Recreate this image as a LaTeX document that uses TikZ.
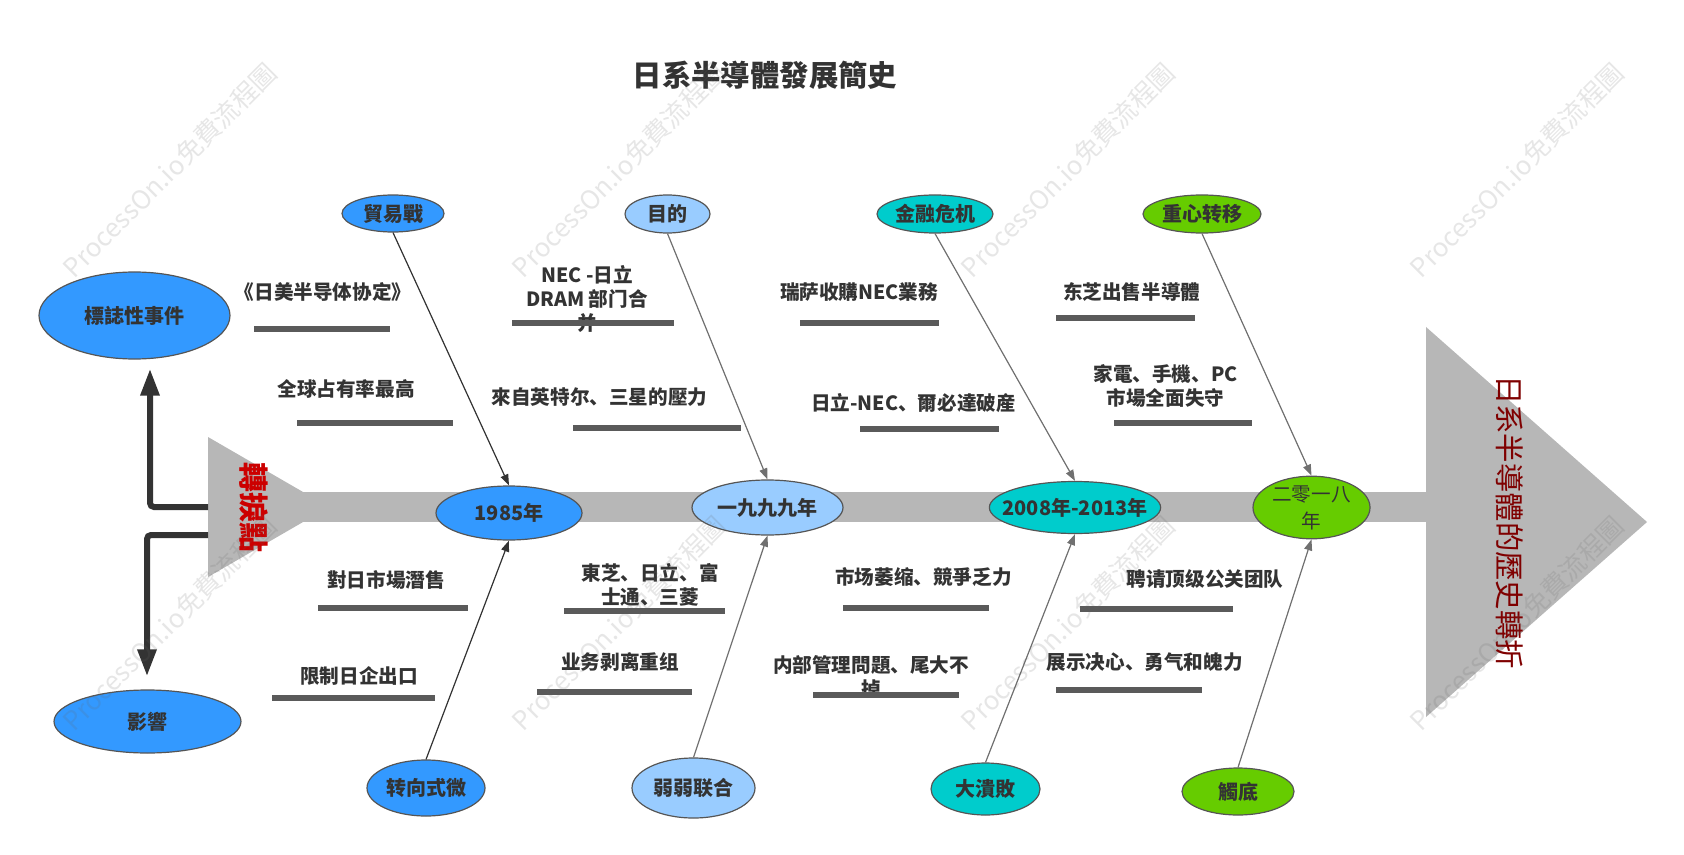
\documentclass[tikz,border=0pt]{standalone}
\usepackage{fontspec}
\setmainfont{Noto Sans CJK SC}
\usetikzlibrary{arrows.meta,shapes.geometric}
\definecolor{cblue}{HTML}{3399FF}
\definecolor{clblue}{HTML}{99CCFF}
\definecolor{cteal}{HTML}{00CCCC}
\definecolor{cgreen}{HTML}{66CC00}
\definecolor{txt}{HTML}{333333}
\definecolor{barc}{HTML}{5A5A5A}
\definecolor{fish}{HTML}{B7B7B7}
\definecolor{dred}{HTML}{7F0000}
\definecolor{bred}{HTML}{CC0000}
\definecolor{edge}{HTML}{555555}
\definecolor{darkarr}{HTML}{333333}
\definecolor{grayarr}{HTML}{707070}
\tikzset{
  oval/.style={ellipse, draw=edge, line width=0.6pt, inner sep=0pt, text=txt,
    font=\bfseries\fontsize{10pt}{12pt}\selectfont, align=center},
  lbl/.style={inner sep=0pt, text=txt, align=center,
    font=\bfseries\fontsize{9.8pt}{12pt}\selectfont},
  ubar/.style={draw=barc, line width=3pt},
  thin arrow/.style={line width=0.6pt, -{Triangle[length=5.5pt,width=4pt]}},
  thick arrow/.style={draw=darkarr, line width=3pt, rounded corners=2pt,
    -{Triangle[length=13.5pt,width=9pt]}},
  wmark/.style={rotate=45, text=black!60, text opacity=0.16,
    font=\fontsize{13pt}{15pt}\selectfont, inner sep=0pt}
}
\begin{document}
\begin{tikzpicture}[x=0.5pt,y=-0.5pt]
\useasboundingbox (0,0) rectangle (1684,855);

% title
\node[inner sep=0pt, text=txt, font=\bfseries\fontsize{14.7pt}{16pt}\selectfont] (title) at (765,75) {日系半導體發展簡史};

% spine
\fill[fish] (290,492) rectangle (1426,522);
\coordinate (LA) at (208,437);
\coordinate (LB) at (208,577);
\coordinate (LC) at (329,507);
\fill[fish] (LA) -- (LB) -- (LC) -- cycle;
\coordinate (RA) at (1426,327);
\coordinate (RB) at (1426,717);
\coordinate (RC) at (1647,522);
\fill[fish] (RA) -- (RB) -- (RC) -- cycle;

\node[rotate=-90, inner sep=0pt, text=bred, font=\bfseries\fontsize{15pt}{16pt}\selectfont] (turn) at (254,507) {轉捩點};
\node[rotate=-90, inner sep=0pt, text=dred, font=\fontsize{14.7pt}{16pt}\selectfont] (head) at (1510,522) {日系半導體的歷史轉折};

% text labels and bars
\node[lbl] (t1) at (323,292) {《日美半导体协定》};
\draw[ubar] (254,329) -- (390,329);
\node[lbl] (t2) at (346,389) {全球占有率最高};
\draw[ubar] (297,423) -- (453,423);
\node[lbl] (t3) at (386,580) {對日市場潛售};
\draw[ubar] (318,608) -- (468,608);
\node[lbl] (t4) at (359,676) {限制日企出口};
\draw[ubar] (272,698) -- (435,698);

\node[lbl] (t5) at (587,299) {NEC -日立\\DRAM 部门合\\并};
\draw[ubar] (512,323) -- (674,323);
\node[lbl] (t6) at (599.5,397) {來自英特尔、三星的壓力};
\draw[ubar] (573,428) -- (741,428);
\node[lbl] (t7) at (650,584.5) {東芝、日立、富\\士通、三菱};
\draw[ubar] (564,611) -- (725,611);
\node[lbl] (t8) at (620,662) {业务剥离重组};
\draw[ubar] (537,692) -- (692,692);

\node[lbl] (t9) at (859,292) {瑞萨收購NEC業務};
\draw[ubar] (800,323) -- (939,323);
\node[lbl] (t10) at (913.5,403) {日立-NEC、爾必達破産};
\draw[ubar] (860,429) -- (999,429);
\node[lbl] (t11) at (923.5,577) {市场萎缩、競爭乏力};
\draw[ubar] (843,608) -- (989,608);
\node[lbl] (t12) at (871,676.5) {内部管理問題、尾大不\\掉};
\draw[ubar] (813,695) -- (959,695);

\node[lbl] (t13) at (1131.7,292) {东芝出售半導體};
\draw[ubar] (1056,318) -- (1195,318);
\node[lbl] (t14) at (1165.5,385.5) {家電、手機、PC\\市場全面失守};
\draw[ubar] (1114,423) -- (1252,423);
\node[lbl] (t15) at (1205,579) {聘请顶级公关团队};
\draw[ubar] (1080,609) -- (1233,609);
\node[lbl] (t16) at (1144.7,662) {展示决心、勇气和魄力};
\draw[ubar] (1056,690) -- (1202,690);

% ellipses
\node[oval, fill=cblue, minimum width=51pt, minimum height=18.5pt] (e1) at (393,213.5) {貿易戰};
\node[oval, fill=clblue, minimum width=42.5pt, minimum height=19pt] (e2) at (667.5,214) {目的};
\node[oval, fill=cteal, minimum width=58pt, minimum height=19pt] (e3) at (935,214) {金融危机};
\node[oval, fill=cgreen, minimum width=59pt, minimum height=19pt] (e4) at (1202,214) {重心转移};

\node[oval, fill=cblue, minimum width=95.5pt, minimum height=43.5pt] (k1) at (134.5,315.5) {標誌性事件};
\node[oval, fill=cblue, minimum width=93.5pt, minimum height=31.5pt] (k2) at (147.5,721.5) {影響};

\node[oval, fill=cblue, minimum width=73pt, minimum height=27pt] (y1) at (509,513) {1985年};
\node[oval, fill=clblue, minimum width=75.5pt, minimum height=27.5pt] (y2) at (767.5,507.5) {一九九九年};
\node[oval, fill=cteal, inner xsep=-6pt, minimum width=82pt, minimum height=26pt] (y3) at (1075,507.5) {2008年-2013年};
\node[oval, fill=cgreen, inner xsep=-2pt, minimum width=58.5pt, minimum height=24.5pt, font=\fontsize{9.8pt}{13.5pt}\selectfont] (y4) at (1311.5,507.5) {二零一八\\年};

\node[oval, fill=cblue, minimum width=59pt, minimum height=28pt] (b1) at (426,788) {转向式微};
\node[oval, fill=clblue, minimum width=61.5pt, minimum height=30pt] (b2) at (693.5,788) {弱弱联合};
\node[oval, fill=cteal, minimum width=54.5pt, minimum height=26pt] (b3) at (985.5,789) {大潰敗};
\node[oval, fill=cgreen, minimum width=56pt, minimum height=23.5pt] (b4) at (1238,791.5) {觸底};

% connectors
\draw[thin arrow, draw=darkarr, fill=darkarr] (e1.south) -- (y1.north);
\draw[thin arrow, draw=darkarr, fill=darkarr] (b1.north) -- (y1.south);
\draw[thin arrow, draw=grayarr, fill=grayarr] (e2.south) -- (y2.north);
\draw[thin arrow, draw=grayarr, fill=grayarr] (b2.north) -- (y2.south);
\draw[thin arrow, draw=grayarr, fill=grayarr] (e3.south) -- (y3.north);
\draw[thin arrow, draw=grayarr, fill=grayarr] (b3.north) -- (y3.south);
\draw[thin arrow, draw=grayarr, fill=grayarr] (e4.south) -- (y4.north);
\draw[thin arrow, draw=grayarr, fill=grayarr] (b4.north) -- (y4.south);

\coordinate (lt1) at (208,507);
\coordinate (lt2) at (208,535);
\draw[thick arrow] (lt1) -| ([xshift=7.75pt,yshift=-4.5pt]k1.south);
\draw[thick arrow] (lt2) -| ([xshift=-0.25pt,yshift=6.5pt]k2.north);

% watermarks
\foreach \i/\x/\y in {1/170/170, 2/619/170, 3/1068/170, 4/1517/170, 5/170/623, 6/619/623, 7/1068/623, 8/1517/623}
  \node[wmark] (wm\i) at (\x,\y) {ProcessOn.io免費流程圖};
\end{tikzpicture}
\end{document}
